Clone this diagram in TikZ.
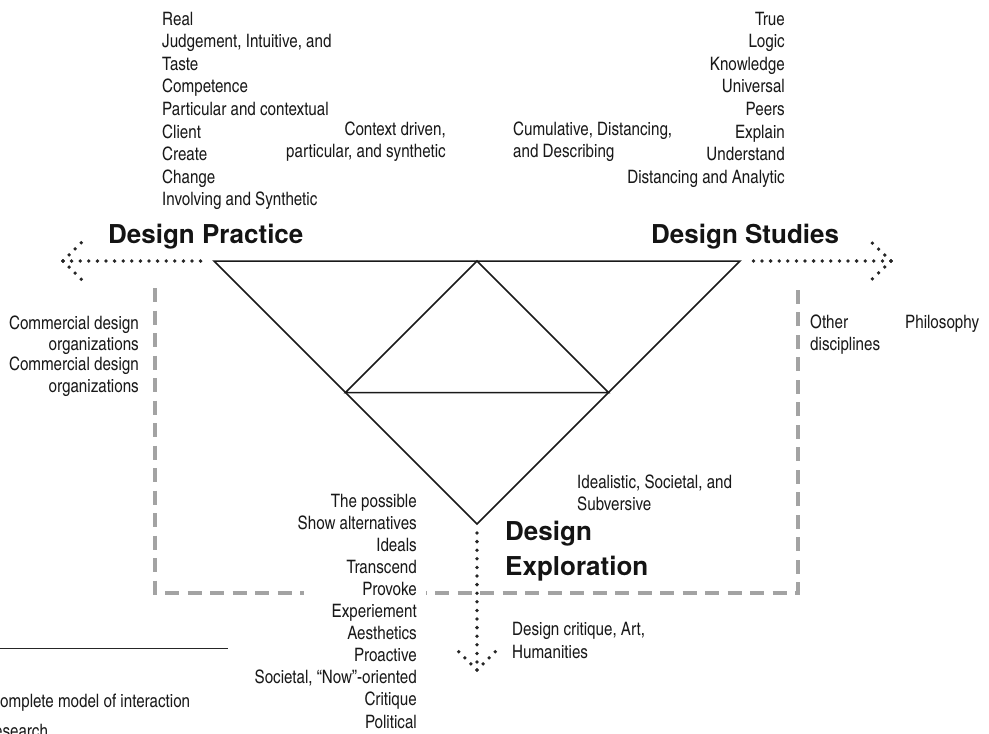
\documentclass[tikz,border=0pt]{standalone}
\usepackage{fontspec}
\setmainfont{texgyreheroscn-regular.otf}
\newfontfamily\hb{texgyreheros-bold.otf}
\tikzset{
  lbl/.style={font=\fontsize{18.5}{22}\selectfont, inner sep=0pt, text=black!90},
  ttl/.style={font=\hb\fontsize{26}{30}\selectfont, inner sep=0pt, text=black!92},
  tri/.style={line width=1.5pt, draw=black!90, line join=miter},
  dots/.style={line width=3.8pt, line cap=round, dash pattern=on 0pt off 8.6pt, draw=black!85},
  gdash/.style={line width=4.5pt, draw=black!36, dash pattern=on 14pt off 8.5pt},
  rule/.style={line width=1pt, draw=black!85}
}
\begin{document}
\begin{tikzpicture}[x=1pt,y=-1pt]
\useasboundingbox (0,0) rectangle (989,734);
\clip (0,0) rectangle (989,734);

% gray dashed frame
\coordinate (g1) at (155,288);
\coordinate (g2) at (155,593);
\coordinate (g3) at (798,593);
\coordinate (g4) at (798,288);
\draw[gdash] (g1) -- (g2) -- (g3) -- (g4);
\fill[white] (304,584) rectangle (426,602);

% triangles
\coordinate (A) at (214,261);
\coordinate (B) at (740,261);
\coordinate (C) at (477,524);
\coordinate (M) at (477,261);
\coordinate (L) at (345.5,392.5);
\coordinate (R) at (608.5,392.5);
\draw[tri] (A) -- (B) -- (C) -- cycle;
\draw[tri] (M) -- (L) -- (R) -- cycle;

% dotted arrows
\coordinate (lS) at (204,261);
\coordinate (lT) at (63,261);
\coordinate (lU) at (86,238);
\coordinate (lD) at (86,284);
\draw[dots] (lT) -- (lS);
\draw[dots] (lT) -- (lU);
\draw[dots] (lT) -- (lD);

\coordinate (rS) at (753,261);
\coordinate (rT) at (891,261);
\coordinate (rU) at (867,238);
\coordinate (rD) at (867,284);
\draw[dots] (rT) -- (rS);
\draw[dots] (rT) -- (rU);
\draw[dots] (rT) -- (rD);

\coordinate (dS) at (477,533);
\coordinate (dT) at (477,670);
\coordinate (dU) at (453,646);
\coordinate (dV) at (501,646);
\draw[dots] (dS) -- (dT);
\draw[dots] (dT) -- (dU);
\draw[dots] (dT) -- (dV);

% bottom-left rule
\coordinate (b1) at (0,648);
\coordinate (b2) at (228,648);
\draw[rule] (b1) -- (b2);

% titles
\node[ttl, anchor=base west] (tp) at (108,243) {Design Practice};
\node[ttl, anchor=base west] (ts) at (651,243) {Design Studies};
\node[ttl, anchor=base west] (te1) at (505,540) {Design};
\node[ttl, anchor=base west] (te2) at (505,575) {Exploration};

% practice column
\foreach \t [count=\i from 0] in {Real, {Judgement, Intuitive, and}, Taste, Competence,
  Particular and contextual, Client, Create, Change, Involving and Synthetic}
  \node[lbl, anchor=base west] (pc\i) at (162,{25+22.6*\i}) {\t};

\node[lbl, anchor=base east] (cx1) at (446,135) {Context driven,};
\node[lbl, anchor=base east] (cx2) at (446,157) {particular, and synthetic};

\node[lbl, anchor=base west] (cu1) at (513,135) {Cumulative, Distancing,};
\node[lbl, anchor=base west] (cu2) at (513,157) {and Describing};

% studies column
\foreach \t [count=\i from 0] in {True, Logic, Knowledge, Universal, Peers, Explain,
  Understand, Distancing and Analytic}
  \node[lbl, anchor=base east] (sc\i) at (785,{25+22.6*\i}) {\t};

% side labels
\node[lbl, anchor=base east] (cm1) at (139,329) {Commercial design};
\node[lbl, anchor=base east] (cm2) at (139,350) {organizations};
\node[lbl, anchor=base east] (cm3) at (139,370) {Commercial design};
\node[lbl, anchor=base east] (cm4) at (139,392) {organizations};

\node[lbl, anchor=base west] (od1) at (810,328) {Other};
\node[lbl, anchor=base west] (od2) at (810,350) {disciplines};
\node[lbl, anchor=base west] (ph) at (905,328) {Philosophy};

% exploration column
\foreach \t [count=\i from 0] in {The possible, Show alternatives, Ideals, Transcend,
  Provoke, Experiement, Aesthetics, Proactive, {Societal, ``Now''-oriented}, Critique, Political}
  \node[lbl, anchor=base east] (ec\i) at (417,{507+22.1*\i}) {\t};

\node[lbl, anchor=base west] (id1) at (577,488) {Idealistic, Societal, and};
\node[lbl, anchor=base west] (id2) at (577,510) {Subversive};

\node[lbl, anchor=base west] (dc1) at (512,635) {Design critique, Art,};
\node[lbl, anchor=base west] (dc2) at (512,658) {Humanities};

% clipped footnote text
\node[lbl, anchor=base west] (fn1) at (-11,707) {Complete model of interaction};
\node[lbl, anchor=base west] (fn2) at (-17,737) {Research};
\end{tikzpicture}
\end{document}
